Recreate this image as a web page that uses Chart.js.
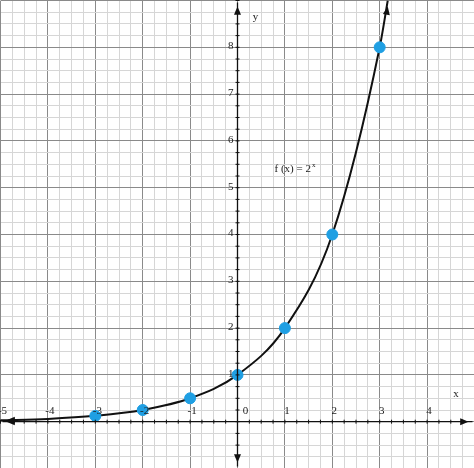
<!DOCTYPE html>
<html><head><meta charset="utf-8">
<script src="https://cdn.jsdelivr.net/npm/chart.js@4"></script>
<style>html,body{margin:0;padding:0;background:#fff;overflow:hidden}#wrap{width:487px;height:481px;margin:-6px 0 0 -6px}</style>
</head><body><div id="wrap"><canvas id="c"></canvas></div>
<script>
// points marqués sur la courbe
const pointX = [-3, -2, -1, 0, 1, 2, 3];
const pointY = [0.125, 0.25, 0.5, 1, 2, 4, 8];
// tracé de la courbe
const curveX = [-5, -4, -3, -2, -1, 0, 1, 2, 3, 3.17];
const curveY = [0.03, 0.06, 0.125, 0.25, 0.5, 1, 2, 4, 8, 9];
const xTicks = [-5, -4, -3, -2, -1, 1, 2, 3, 4, 5];
const yTicks = [1, 2, 3, 4, 5, 6, 7, 8];

const axesPlugin = {
  id: "axes",
  afterDatasetsDraw(chart) {
    const ctx = chart.ctx, xs = chart.scales.x, ys = chart.scales.y;
    const x0 = xs.getPixelForValue(0), y0 = ys.getPixelForValue(0);
    ctx.save();
    ctx.strokeStyle = "#111"; ctx.fillStyle = "#111"; ctx.lineWidth = 1.3;
    ctx.beginPath();
    ctx.moveTo(xs.left + 2, y0); ctx.lineTo(xs.right - 2, y0);
    ctx.moveTo(x0, ys.top + 2); ctx.lineTo(x0, ys.bottom - 2);
    ctx.stroke();
    // petites graduations
    ctx.lineWidth = 1;
    for (let v = -5; v <= 5; v += 0.25) {
      const p = xs.getPixelForValue(v);
      ctx.beginPath(); ctx.moveTo(p, y0 - 2); ctx.lineTo(p, y0 + 2); ctx.stroke();
    }
    for (let v = -1; v <= 9; v += 0.25) {
      const p = ys.getPixelForValue(v);
      ctx.beginPath(); ctx.moveTo(x0 - 2, p); ctx.lineTo(x0 + 2, p); ctx.stroke();
    }
    const arrow = (x, y, a) => {
      ctx.beginPath();
      ctx.moveTo(x, y);
      ctx.lineTo(x - 9 * Math.cos(a - 0.4), y - 9 * Math.sin(a - 0.4));
      ctx.lineTo(x - 9 * Math.cos(a + 0.4), y - 9 * Math.sin(a + 0.4));
      ctx.closePath(); ctx.fill();
    };
    arrow(xs.right - 6, y0, 0); arrow(xs.left + 6, y0, Math.PI);
    arrow(x0, ys.top + 6, -Math.PI / 2); arrow(x0, ys.bottom - 6, Math.PI / 2);
    // flèches de la courbe
    const n = curveX.length;
    const ax = xs.getPixelForValue(curveX[n - 1]), ay = ys.getPixelForValue(curveY[n - 1]);
    const bx = xs.getPixelForValue(curveX[n - 2]), by = ys.getPixelForValue(curveY[n - 2]);
    arrow(ax, ay + 6, Math.atan2(ay - by, ax - bx));
    arrow(xs.getPixelForValue(curveX[0]) + 6, ys.getPixelForValue(curveY[0]), Math.PI);
    // étiquettes
    ctx.font = "11px 'Liberation Serif'"; ctx.fillStyle = "#222";
    ctx.textAlign = "center"; ctx.textBaseline = "bottom";
    xTicks.forEach(v => ctx.fillText(String(v), xs.getPixelForValue(v) + 2, y0 - 5));
    ctx.fillText("0", x0 + 8, y0 - 5);
    ctx.textAlign = "right"; ctx.textBaseline = "middle";
    yTicks.forEach(v => ctx.fillText(String(v), x0 - 4, ys.getPixelForValue(v) - 1));
    ctx.textAlign = "left";
    ctx.fillText("x", xs.getPixelForValue(4.55), ys.getPixelForValue(0.6));
    ctx.fillText("y", xs.getPixelForValue(0.32), ys.getPixelForValue(8.65));
    ctx.fillText("f (x) = 2", xs.getPixelForValue(0.78), ys.getPixelForValue(5.4));
    ctx.font = "7px 'Liberation Serif'";
    ctx.fillText("x", xs.getPixelForValue(0.78) + ctx.measureText("f (x) = 2").width * 11 / 7 + 1, ys.getPixelForValue(5.4) - 4);
    ctx.restore();
  }
};

new Chart(document.getElementById("c"), {
  type: "scatter",
  data: {
    datasets: [
      {
        data: pointX.map((x, i) => ({ x, y: pointY[i] })),
        backgroundColor: "#1f9fe3", borderColor: "#1f9fe3",
        pointRadius: 5.5, order: 0
      },
      {
        type: "line",
        data: curveX.map((x, i) => ({ x, y: curveY[i] })),
        borderColor: "#111", borderWidth: 2, pointRadius: 0,
        cubicInterpolationMode: "monotone", order: 1
      }
    ]
  },
  options: {
    responsive: true, maintainAspectRatio: false, animation: false,
    layout: { padding: 0 },
    plugins: { legend: { display: false }, tooltip: { enabled: false } },
    scales: {
      x: {
        type: "linear", min: -5, max: 5,
        ticks: { stepSize: 0.25, display: false },
        border: { display: false },
        grid: { drawTicks: false, color: c => Number.isInteger(c.tick.value) ? "#8a8a8a" : "#d6d6d6" }
      },
      y: {
        type: "linear", min: -1, max: 9,
        ticks: { stepSize: 0.25, display: false },
        border: { display: false },
        grid: { drawTicks: false, color: c => Number.isInteger(c.tick.value) ? "#8a8a8a" : "#d6d6d6" }
      }
    }
  },
  plugins: [axesPlugin]
});
</script></body></html>
